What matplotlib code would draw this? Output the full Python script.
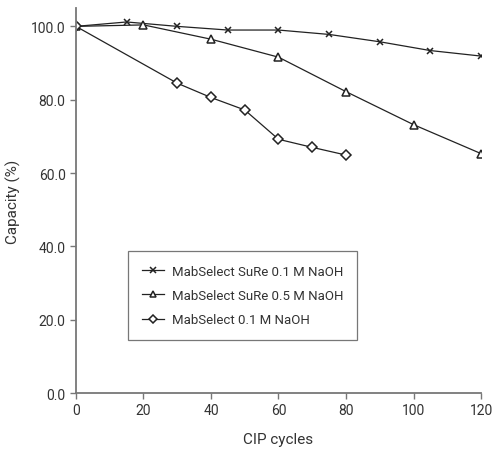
import matplotlib
matplotlib.use("Agg")
import matplotlib.pyplot as plt

plt.rcParams["font.family"] = ["Roboto", "DejaVu Sans"]

# MabSelect SuRe, 0.1 M NaOH
sure01_x = [0, 15, 30, 45, 60, 75, 90, 105, 120]
sure01_y = [100.0, 101.2, 100.0, 99.0, 99.0, 97.8, 95.8, 93.4, 91.9]

# MabSelect SuRe, 0.5 M NaOH
sure05_x = [0, 20, 40, 60, 80, 100, 120]
sure05_y = [100.0, 100.4, 96.5, 91.6, 82.2, 73.2, 65.3]

# MabSelect, 0.1 M NaOH
mab01_x = [0, 30, 40, 50, 60, 70, 80]
mab01_y = [100.0, 84.5, 80.6, 77.2, 69.2, 67.0, 64.9]

labels = [
    "MabSelect SuRe 0.1 M NaOH",
    "MabSelect SuRe 0.5 M NaOH",
    "MabSelect 0.1 M NaOH",
]
x_ticks = [0, 20, 40, 60, 80, 100, 120]
y_ticks = [0, 20, 40, 60, 80, 100]

fig = plt.figure(figsize=(4.94, 4.52), dpi=100)
ax = fig.add_axes([0.1538, 0.1283, 0.8199, 0.8517])

line_kw = dict(color="#222222", linewidth=0.9, markeredgecolor="#222222")
ax.plot(sure01_x, sure01_y, marker="x", markersize=5, markeredgewidth=1.1,
        label=labels[0], **line_kw)
ax.plot(sure05_x, sure05_y, marker="^", markersize=6, markerfacecolor="white",
        markeredgewidth=1.1, label=labels[1], **line_kw)
ax.plot(mab01_x, mab01_y, marker="D", markersize=5, markerfacecolor="white",
        markeredgewidth=1.1, label=labels[2], **line_kw)

ax.set_xlim(0, 120)
ax.set_ylim(0, 105)
ax.set_xticks(x_ticks)
ax.set_yticks(y_ticks, [f"{v:.1f}" for v in y_ticks])
ax.tick_params(labelsize=10, colors="#333333", length=4, width=1, color="#777777")
ax.tick_params(axis="x", pad=3)

for side in ["top", "right"]:
    ax.spines[side].set_visible(False)
for side in ["left", "bottom"]:
    ax.spines[side].set_color("#777777")
    ax.spines[side].set_linewidth(1.3)

ax.set_xlabel("CIP cycles", fontsize=11, color="#333333", labelpad=11)
ax.set_ylabel("Capacity (%)", fontsize=11, color="#333333", labelpad=7)

leg = ax.legend(loc="upper left", bbox_to_anchor=(0.128, 0.369), fontsize=9.5,
                frameon=True, fancybox=False, edgecolor="#555555",
                handlelength=1.7, handletextpad=0.6, markerscale=0.75,
                borderpad=1.05, labelspacing=0.85, borderaxespad=0)
leg.get_frame().set_linewidth(0.9)
for t in leg.get_texts():
    t.set_color("#333333")

fig.savefig("out.png", dpi=100)
